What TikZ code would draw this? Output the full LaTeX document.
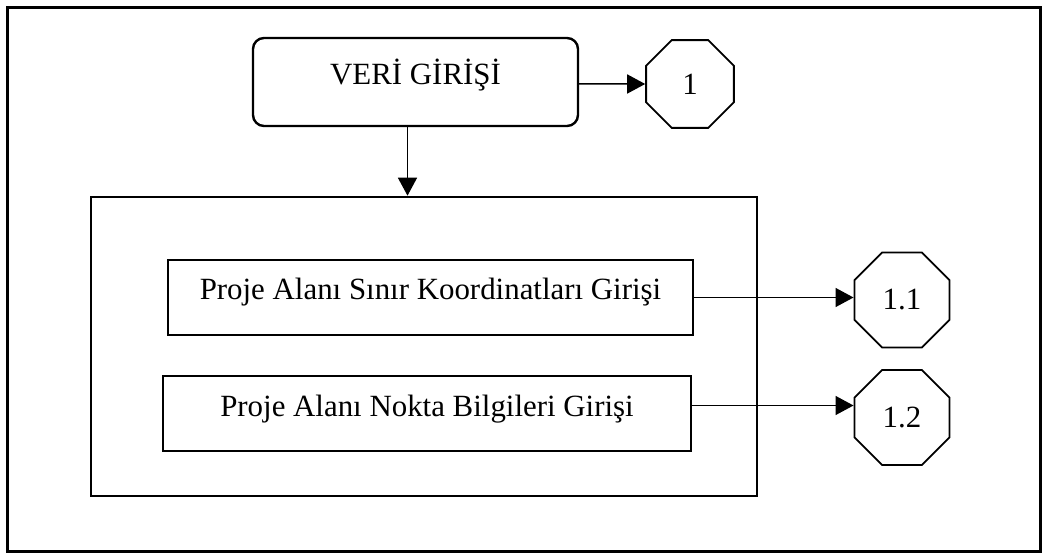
\documentclass[tikz,border=0pt]{standalone}
\usepackage{fontspec}
\setmainfont{Liberation Serif}
\usepackage{tikz}
\usetikzlibrary{shapes,positioning,calc}
\usetikzlibrary{shapes.geometric}
\usetikzlibrary{arrows.meta}
\tikzstyle{yazi} = [font=\fontsize{31}{36}\selectfont, text height=22bp, text depth=17bp]
\tikzstyle{girisk} = [rectangle, rounded corners=11bp, line width=2.4bp, draw=black, minimum width=325bp, minimum height=88bp, yazi]
\tikzstyle{kutu} = [rectangle, line width=2bp, draw=black, minimum height=75bp, yazi]
\tikzstyle{sekizgen} = [regular polygon, regular polygon sides=8, draw=black, line width=1.8bp, inner sep=0pt, font=\fontsize{31}{36}\selectfont]
\tikzstyle{ok} = [line width=1.5bp, -{Triangle[length=18bp,width=19bp]}]

\begin{document}
\begin{tikzpicture}[x=1bp, y=-1bp]
						\useasboundingbox (0,0) rectangle (1044,557);
						\draw[line width=3bp] (7,8) rectangle (1040,551);
						\node (ic) at (424,346.5) [rectangle, draw=black, line width=2.6bp, minimum width=666bp, minimum height=299bp] {};
						\node (veri) at (415.5,82) [girisk] {VERİ GİRİŞİ};
						\node (o1) at (690,84) [sekizgen, minimum size=95bp] {1};
						\node (p1) at (430.5,297.5) [kutu, minimum width=525bp] {Proje Alanı Sınır Koordinatları Girişi};
						\node (p2) at (427,413.5) [kutu, minimum width=528bp] {Proje Alanı Nokta Bilgileri Girişi};
						\node (o11) at (902,300) [sekizgen, minimum size=103bp] {1.1};
						\node (o12) at (902,417.5) [sekizgen, minimum size=103bp] {1.2};
						\draw[ok] (veri.east |- o1) -- (o1.west);
						\draw[ok] ([xshift=-8bp]veri.south) -- ([xshift=-8bp]veri.south |- ic.north);
						\draw[ok] (p1.east) -- (p1.east -| o11.west);
						\draw[ok] ([yshift=8bp]p2.east) -- ([yshift=8bp]p2.east -| o12.west);
						
					\end{tikzpicture}
\end{document}
